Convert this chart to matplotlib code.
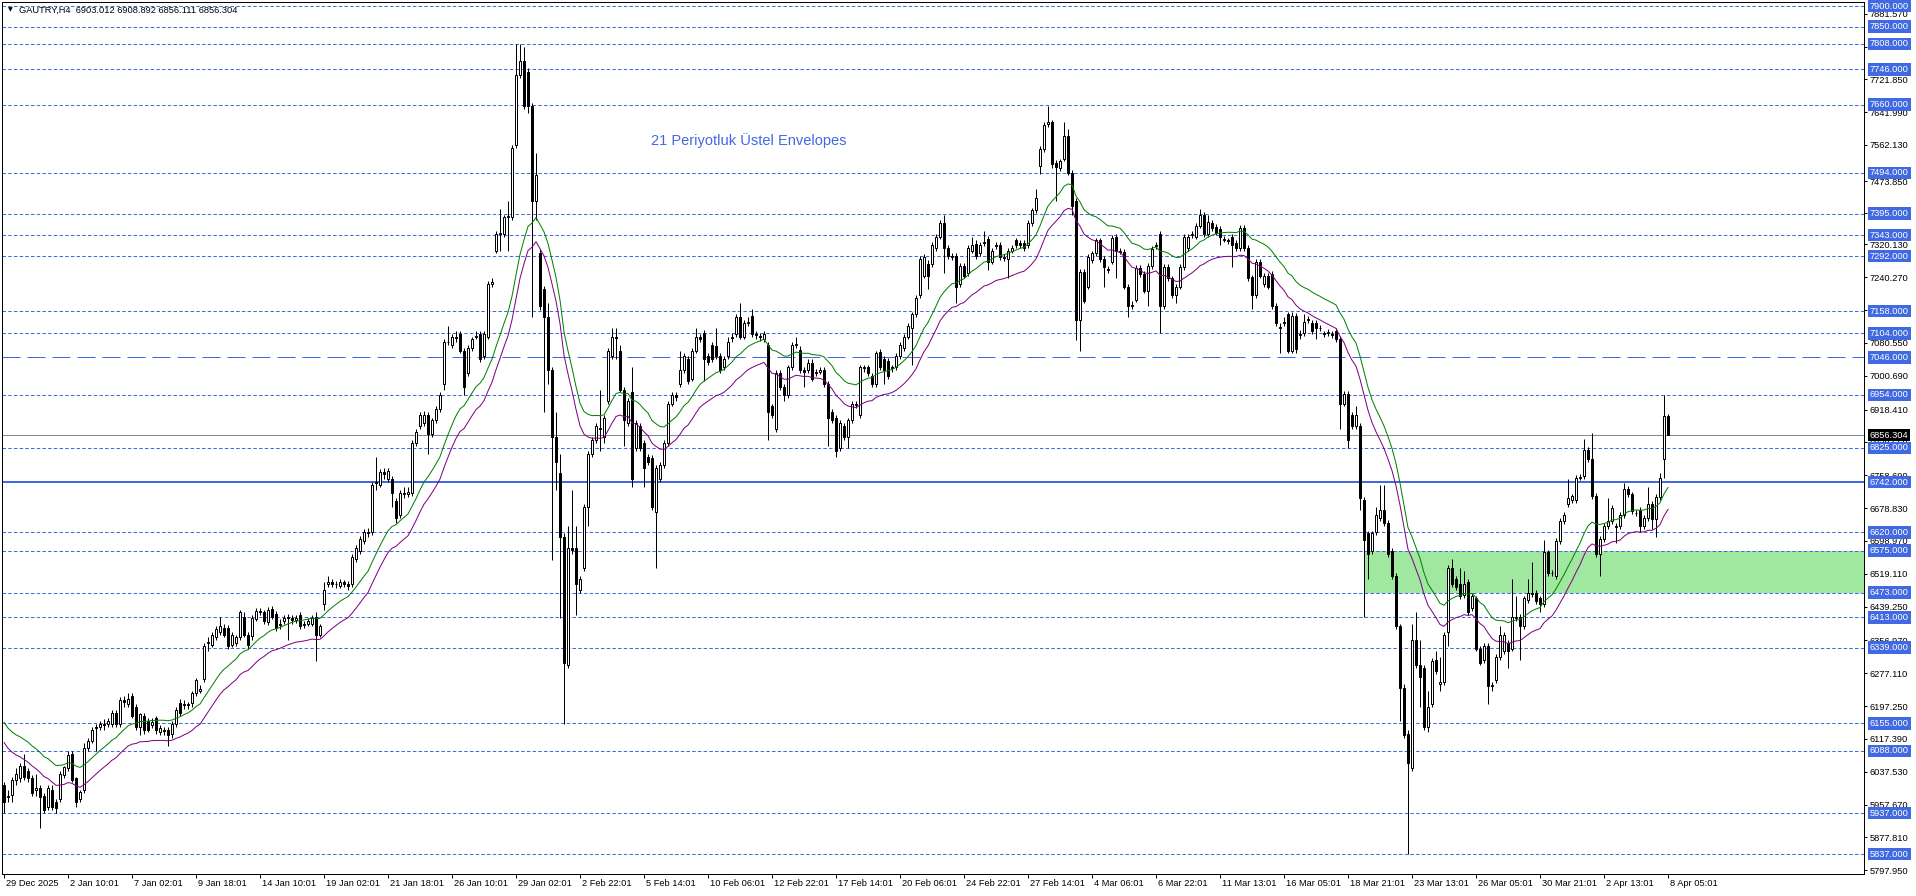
import numpy as np
import matplotlib
matplotlib.use("Agg")
import matplotlib.pyplot as plt
import matplotlib.transforms as mtransforms
from matplotlib.patches import Rectangle

plt.rcParams['font.family'] = ['Liberation Sans', 'DejaVu Sans']

# ---------------- data (H4 candles, GAUTRY) ----------------
opens = [
    6005, 5975, 5981, 6018, 6021, 6052, 6039, 6021, 5994, 5998,
    5978, 5951, 5994, 5964, 5970, 6029, 6046, 6080, 6021, 5970,
    5992, 6094, 6113, 6147, 6147, 6154, 6154, 6154, 6181, 6154,
    6211, 6201, 6222, 6195, 6147, 6174, 6161, 6152, 6167, 6134,
    6140, 6140, 6130, 6154, 6205, 6199, 6203, 6205, 6228, 6235,
    6262, 6350, 6346, 6364, 6377, 6387, 6387, 6346, 6350, 6364,
    6414, 6371, 6368, 6409, 6428, 6425, 6402, 6434, 6422, 6395,
    6404, 6411, 6411, 6407, 6418, 6395, 6398, 6398, 6414, 6371,
    6445, 6495, 6499, 6495, 6490, 6499, 6495, 6493, 6554, 6574,
    6598, 6621, 6621, 6740, 6736, 6766, 6750, 6750, 6696, 6662,
    6716, 6714, 6716, 6838, 6879, 6885, 6906, 6858, 6892, 6919,
    6980, 7082, 7075, 7095, 7102, 7062, 7007, 7068, 7095, 7102,
    7048, 7095, 7224, 7305, 7346, 7346, 7387, 7387, 7563, 7732,
    7766, 7740, 7658, 7427, 7300, 7211, 7143, 7014, 6851, 6764,
    6608, 6296, 6581, 6581, 6479, 6533, 6682, 6811, 6845, 6874,
    6851, 6940, 7048, 7095, 7062, 6967, 6885, 6960, 6824, 6879,
    6838, 6804, 6801, 6669, 6750, 6784, 6838, 6933, 6953, 6980,
    7014, 7041, 6994, 7062, 7095, 7105, 7048, 7075, 7072, 7048,
    7021, 7048, 7093, 7102, 7143, 7095, 7129, 7146, 7102, 7098,
    7089, 7075, 6926, 6872, 7007, 6974, 6953, 7021, 7075, 7064,
    7014, 7014, 7032, 7007, 7010, 7014, 6980, 6913, 6899, 6824,
    6879, 6851, 6892, 6929, 6906, 7021, 7021, 7001, 6980, 7059,
    7041, 7037, 7021, 7021, 7048, 7068, 7095, 7116, 7150, 7197,
    7244, 7272, 7272, 7312, 7339, 7373, 7312, 7292, 7292, 7224,
    7267, 7251, 7305, 7322, 7299, 7323, 7333, 7278, 7316, 7319,
    7289, 7285, 7305, 7330, 7323, 7323, 7319, 7373, 7403, 7511,
    7552, 7614, 7617, 7518, 7505, 7529, 7583, 7495, 7427, 7136,
    7254, 7217, 7282, 7299, 7330, 7285, 7260, 7278, 7339, 7305,
    7303, 7217, 7173, 7186, 7262, 7248, 7208, 7267, 7316, 7346,
    7170, 7265, 7238, 7197, 7217, 7265, 7312, 7343, 7339, 7366,
    7393, 7346, 7373, 7362, 7357, 7333, 7330, 7339, 7323, 7312,
    7360, 7312, 7240, 7197, 7278, 7224, 7244, 7248, 7170, 7120,
    7129, 7150, 7062, 7146, 7100, 7105, 7136, 7129, 7129, 7118,
    7104, 7105, 7102, 7109, 7091, 6933, 6956, 6906, 6879, 6879,
    6698, 6617, 6574, 6621, 6655, 6675, 6642, 6574, 6513, 6391,
    6242, 6130, 6046, 6357, 6296, 6289, 6147, 6201, 6310, 6250,
    6255, 6377, 6533, 6506, 6493, 6468, 6499, 6436, 6459, 6337,
    6310, 6344, 6246, 6260, 6316, 6330, 6350, 6337, 6414, 6414,
    6391, 6455, 6472, 6472, 6459, 6445, 6571, 6520, 6513, 6598,
    6648, 6689, 6698, 6698, 6753, 6757, 6820, 6797, 6709, 6567,
    6604, 6635, 6648, 6635, 6635, 6662, 6726, 6712, 6666, 6675,
    6635, 6655, 6689, 6652, 6705, 6797, 6903.012,
]
closes = [
    5964, 5978, 6018, 6032, 6052, 6025, 6021, 5985, 5998, 5975,
    5944, 5998, 5951, 5948, 6032, 6049, 6079, 6018, 5964, 5989,
    6094, 6113, 6140, 6145, 6154, 6152, 6161, 6181, 6154, 6211,
    6208, 6215, 6174, 6147, 6177, 6140, 6140, 6158, 6138, 6143,
    6136, 6127, 6154, 6188, 6181, 6203, 6199, 6228, 6260, 6238,
    6344, 6352, 6371, 6384, 6391, 6371, 6344, 6371, 6364, 6425,
    6371, 6346, 6411, 6428, 6425, 6404, 6432, 6414, 6387, 6398,
    6411, 6414, 6407, 6411, 6391, 6398, 6404, 6411, 6371, 6391,
    6479, 6499, 6495, 6493, 6499, 6495, 6490, 6560, 6581, 6604,
    6621, 6618, 6736, 6743, 6766, 6762, 6770, 6716, 6655, 6716,
    6714, 6719, 6838, 6865, 6906, 6906, 6858, 6892, 6919, 6953,
    7082, 7084, 7095, 7093, 7062, 6974, 7068, 7089, 7098, 7041,
    7102, 7224, 7228, 7346, 7349, 7387, 7390, 7556, 7732, 7766,
    7658, 7658, 7427, 7488, 7170, 7143, 7014, 6851, 6791, 6608,
    6303, 6581, 6577, 6493, 6506, 6682, 6811, 6845, 6879, 6872,
    6899, 7062, 7095, 7093, 6967, 6892, 6940, 6750, 6885, 6824,
    6777, 6791, 6682, 6777, 6784, 6838, 6933, 6953, 6950, 7014,
    7048, 6987, 7062, 7095, 7091, 7041, 7034, 7041, 7048, 7014,
    7041, 7082, 7095, 7143, 7095, 7129, 7132, 7102, 7100, 7095,
    7102, 6913, 6906, 7007, 6974, 6953, 7021, 7075, 7078, 7014,
    7010, 7032, 6994, 7010, 7014, 6980, 6899, 6892, 6818, 6885,
    6851, 6892, 6933, 6931, 7021, 7019, 7007, 6980, 7055, 7021,
    7014, 7001, 7019, 7048, 7075, 7095, 7122, 7150, 7190, 7285,
    7289, 7244, 7319, 7339, 7373, 7312, 7292, 7289, 7217, 7267,
    7244, 7312, 7319, 7292, 7319, 7326, 7278, 7305, 7319, 7289,
    7287, 7305, 7312, 7319, 7319, 7312, 7373, 7403, 7434, 7552,
    7610, 7617, 7515, 7509, 7522, 7583, 7495, 7414, 7136, 7254,
    7183, 7289, 7299, 7330, 7285, 7265, 7258, 7335, 7305, 7303,
    7217, 7170, 7170, 7262, 7248, 7208, 7267, 7309, 7319, 7170,
    7265, 7238, 7197, 7217, 7265, 7339, 7339, 7346, 7366, 7393,
    7346, 7376, 7360, 7349, 7339, 7331, 7328, 7319, 7312, 7360,
    7312, 7238, 7197, 7278, 7244, 7244, 7217, 7170, 7129, 7118,
    7132, 7062, 7146, 7066, 7102, 7132, 7138, 7109, 7116, 7116,
    7102, 7107, 7100, 7091, 6933, 6956, 6845, 6879, 6906, 6703,
    6601, 6567, 6617, 6662, 6675, 6642, 6567, 6513, 6391, 6242,
    6127, 6059, 6357, 6296, 6269, 6147, 6195, 6306, 6283, 6255,
    6371, 6533, 6493, 6486, 6465, 6493, 6425, 6465, 6337, 6303,
    6344, 6246, 6249, 6316, 6371, 6371, 6330, 6414, 6412, 6391,
    6459, 6472, 6470, 6452, 6445, 6571, 6520, 6522, 6598, 6648,
    6662, 6703, 6707, 6753, 6755, 6820, 6797, 6709, 6567, 6604,
    6635, 6648, 6680, 6633, 6662, 6726, 6712, 6671, 6668, 6635,
    6655, 6689, 6652, 6705, 6753, 6902, 6856.304,
]
highs = [
    6012, 5994, 6025, 6046, 6059, 6080, 6046, 6029, 6032, 6005,
    5985, 6005, 6005, 5970, 6039, 6052, 6087, 6087, 6025, 5994,
    6107, 6120, 6147, 6154, 6161, 6165, 6167, 6188, 6188, 6218,
    6222, 6228, 6228, 6201, 6181, 6181, 6167, 6167, 6174, 6150,
    6147, 6147, 6161, 6195, 6215, 6211, 6208, 6235, 6266, 6249,
    6350, 6364, 6377, 6391, 6414, 6398, 6394, 6377, 6371, 6432,
    6425, 6377, 6418, 6436, 6436, 6432, 6438, 6440, 6428, 6409,
    6418, 6420, 6418, 6418, 6425, 6404, 6411, 6418, 6425, 6398,
    6500, 6513, 6506, 6502, 6506, 6504, 6502, 6567, 6588, 6611,
    6628, 6630, 6743, 6804, 6773, 6777, 6777, 6757, 6703, 6723,
    6730, 6730, 6845, 6872, 6913, 6915, 6913, 6899, 6926, 6960,
    7089, 7122, 7102, 7109, 7109, 7068, 7075, 7095, 7109, 7109,
    7109, 7231, 7238, 7353, 7407, 7393, 7427, 7563, 7807, 7809,
    7800, 7750, 7665, 7542, 7310, 7220, 7177, 7021, 6913, 6811,
    6617, 6635, 6723, 6635, 6513, 6689, 6818, 6851, 6885, 6967,
    6906, 7068, 7116, 7116, 7075, 6974, 6946, 7021, 6892, 6885,
    6845, 6811, 6808, 6784, 6791, 6845, 6940, 6960, 6960, 7062,
    7055, 7048, 7068, 7116, 7102, 7112, 7055, 7082, 7116, 7055,
    7048, 7095, 7105, 7150, 7177, 7136, 7143, 7163, 7109, 7105,
    7109, 7082, 6933, 7014, 7014, 6980, 7028, 7082, 7095, 7072,
    7021, 7041, 7041, 7017, 7021, 7021, 6987, 6919, 6906, 6892,
    6885, 6899, 6940, 6940, 7028, 7028, 7028, 7007, 7062, 7066,
    7048, 7044, 7028, 7055, 7082, 7102, 7129, 7157, 7197, 7292,
    7296, 7282, 7326, 7346, 7380, 7393, 7319, 7299, 7299, 7274,
    7274, 7319, 7339, 7330, 7326, 7353, 7340, 7312, 7326, 7326,
    7296, 7312, 7319, 7337, 7330, 7330, 7380, 7410, 7454, 7559,
    7617, 7658, 7624, 7525, 7529, 7617, 7600, 7502, 7434, 7261,
    7261, 7296, 7305, 7337, 7337, 7292, 7267, 7342, 7346, 7312,
    7310, 7224, 7183, 7269, 7269, 7255, 7274, 7316, 7326, 7353,
    7272, 7272, 7244, 7224, 7272, 7346, 7346, 7353, 7373, 7407,
    7400, 7393, 7380, 7369, 7364, 7340, 7337, 7346, 7330, 7367,
    7367, 7319, 7247, 7285, 7285, 7251, 7251, 7255, 7177, 7129,
    7143, 7157, 7157, 7153, 7112, 7150, 7146, 7136, 7136, 7125,
    7109, 7114, 7109, 7116, 7098, 6963, 6963, 6913, 6926, 6886,
    6705, 6624, 6624, 6682, 6736, 6736, 6649, 6581, 6520, 6398,
    6250, 6140, 6398, 6425, 6357, 6296, 6235, 6313, 6330, 6316,
    6378, 6540, 6554, 6513, 6533, 6526, 6506, 6472, 6466, 6344,
    6351, 6351, 6256, 6323, 6391, 6378, 6357, 6506, 6465, 6421,
    6466, 6506, 6547, 6479, 6466, 6601, 6578, 6529, 6605, 6655,
    6669, 6750, 6714, 6760, 6762, 6848, 6827, 6861, 6716, 6611,
    6642, 6703, 6687, 6642, 6669, 6740, 6733, 6719, 6675, 6682,
    6662, 6730, 6696, 6712, 6764, 6954, 6908.892,
]
lows = [
    5937, 5964, 5964, 6005, 6012, 6018, 6012, 5978, 5978, 5901,
    5937, 5944, 5944, 5937, 5964, 6021, 6039, 6012, 5951, 5964,
    5985, 6087, 6107, 6087, 6140, 6140, 6147, 6147, 6147, 6147,
    6195, 6195, 6167, 6140, 6127, 6130, 6134, 6145, 6130, 6127,
    6127, 6100, 6120, 6147, 6174, 6190, 6190, 6195, 6222, 6228,
    6255, 6330, 6340, 6357, 6371, 6364, 6337, 6340, 6344, 6357,
    6364, 6337, 6357, 6404, 6418, 6398, 6395, 6409, 6380, 6384,
    6398, 6357, 6398, 6400, 6384, 6387, 6391, 6391, 6307, 6364,
    6430, 6486, 6486, 6484, 6484, 6486, 6479, 6486, 6547, 6567,
    6591, 6608, 6614, 6723, 6730, 6750, 6743, 6682, 6642, 6655,
    6703, 6705, 6709, 6831, 6872, 6879, 6811, 6851, 6885, 6913,
    6967, 7075, 7068, 7082, 7055, 6953, 7001, 7062, 7089, 7034,
    7041, 7089, 7217, 7299, 7305, 7339, 7305, 7380, 7556, 7725,
    7650, 7640, 7143, 7380, 7160, 6913, 6980, 6553, 6723, 6411,
    6154, 6289, 6567, 6418, 6472, 6526, 6635, 6804, 6838, 6818,
    6838, 6933, 7041, 7041, 6960, 6831, 6879, 6730, 6818, 6818,
    6730, 6784, 6675, 6533, 6743, 6777, 6831, 6926, 6940, 6974,
    7007, 6980, 6987, 7055, 7082, 6987, 7028, 7034, 7041, 7007,
    7014, 7041, 7084, 7095, 7089, 7089, 7122, 7095, 7091, 7086,
    7082, 6845, 6899, 6865, 6967, 6940, 6946, 7014, 7068, 7007,
    6974, 7007, 6987, 7001, 7004, 6974, 6831, 6885, 6804, 6818,
    6845, 6824, 6885, 6922, 6899, 7010, 7001, 6974, 6974, 7014,
    6980, 6994, 7010, 7014, 7041, 7062, 7089, 7028, 7143, 7190,
    7238, 7211, 7265, 7305, 7333, 7251, 7285, 7282, 7177, 7217,
    7238, 7244, 7299, 7285, 7292, 7316, 7258, 7272, 7309, 7282,
    7280, 7238, 7299, 7312, 7312, 7305, 7312, 7366, 7397, 7492,
    7545, 7605, 7505, 7427, 7498, 7522, 7488, 7393, 7088, 7062,
    7177, 7211, 7275, 7292, 7278, 7217, 7251, 7272, 7238, 7296,
    7211, 7143, 7163, 7180, 7241, 7201, 7170, 7260, 7309, 7105,
    7163, 7231, 7190, 7177, 7211, 7258, 7305, 7336, 7333, 7360,
    7339, 7339, 7353, 7342, 7319, 7326, 7322, 7265, 7305, 7305,
    7305, 7231, 7163, 7190, 7238, 7217, 7211, 7163, 7122, 7055,
    7122, 7055, 7055, 7055, 7091, 7098, 7129, 7102, 7089, 7109,
    7095, 7098, 7093, 7084, 6872, 6926, 6824, 6872, 6872, 6675,
    6413, 6506, 6567, 6614, 6648, 6635, 6560, 6506, 6384, 6160,
    6120, 5837, 6039, 6289, 6195, 6140, 6134, 6195, 6276, 6235,
    6249, 6344, 6486, 6479, 6458, 6461, 6418, 6429, 6330, 6296,
    6303, 6201, 6235, 6253, 6309, 6323, 6289, 6330, 6405, 6310,
    6384, 6448, 6463, 6445, 6425, 6438, 6513, 6513, 6506, 6591,
    6641, 6682, 6691, 6691, 6746, 6750, 6790, 6702, 6560, 6513,
    6597, 6628, 6641, 6594, 6628, 6655, 6705, 6664, 6659, 6621,
    6628, 6648, 6628, 6608, 6698, 6753, 6856.111,
]

# indicator settings: 21-period exponential envelopes
ema_period = 21
envelope_dev_pct = 0.4
ema_seed = 6150

# horizontal levels
dashed_levels = [7900, 7850, 7808, 7746, 7660, 7494, 7395, 7343, 7292, 7158,
                 7104, 6954, 6825, 6620, 6575, 6473, 6413, 6339, 6155, 6088,
                 5937, 5837]
long_dash_level = 7046
solid_level = 6742
current_price = 6856.304
zone_low = 6473
zone_high = 6575
zone_start_bar = 340

axis_ticks = [7881.570, 7801.710, 7721.850, 7641.990, 7562.130, 7473.850,
              7396.990, 7320.130, 7240.270, 7160.410, 7080.550, 7000.690,
              6918.410, 6838.550, 6758.690, 6678.830, 6598.970, 6519.110,
              6439.250, 6356.970, 6277.110, 6197.250, 6117.390, 6037.530,
              5957.670, 5877.810, 5797.950]

time_labels = ["29 Dec 2025", "2 Jan 10:01", "7 Jan 02:01", "9 Jan 18:01",
               "14 Jan 10:01", "19 Jan 02:01", "21 Jan 18:01", "26 Jan 10:01",
               "29 Jan 02:01", "2 Feb 22:01", "5 Feb 14:01", "10 Feb 06:01",
               "12 Feb 22:01", "17 Feb 14:01", "20 Feb 06:01", "24 Feb 22:01",
               "27 Feb 14:01", "4 Mar 06:01", "6 Mar 22:01", "11 Mar 13:01",
               "16 Mar 05:01", "18 Mar 21:01", "23 Mar 13:01", "26 Mar 05:01",
               "30 Mar 21:01", "2 Apr 13:01", "8 Apr 05:01"]
label_step = 16

symbol_text = "GAUTRY,H4  6903.012 6908.892 6856.111 6856.304"
indicator_text = "21 Periyotluk \u00dcstel Envelopes"

# ---------------- figure ----------------
W, H = 1916, 896
fig = plt.figure(figsize=(W / 100, H / 100), dpi=100)
ax = fig.add_axes([2 / W, 22 / H, 1862 / W, 872 / H])
ax.set_xlim(-0.5, 465)
ax.set_ylim(5788.6, 7910)

PX = 0.72  # 1 pixel in points
BLUE = '#4169E1'

n = min(len(opens), len(closes), len(highs), len(lows))
o = np.array(opens[:n], float)
c = np.array(closes[:n], float)
h = np.array(highs[:n], float)
l = np.array(lows[:n], float)
x = np.arange(n)

# zone
ax.add_patch(Rectangle((zone_start_bar, zone_low), 465 - zone_start_bar,
                       zone_high - zone_low, facecolor='#A0E8A0',
                       edgecolor='none', zorder=0.5))

# levels
for p in dashed_levels:
    ax.axhline(p, color=BLUE, lw=PX, linestyle=(0, (3.5, 2.2)), zorder=1)
ax.axhline(long_dash_level, color=BLUE, lw=PX, linestyle=(0, (18, 7)), zorder=1)
ax.axhline(solid_level, color=BLUE, lw=2 * PX, zorder=1)
ax.axhline(current_price, color='#7A8899', lw=PX, zorder=1)

# candles
ax.vlines(x, l, h, color='black', lw=PX, zorder=3)
up = c >= o
bottom = np.minimum(o, c)
height = np.abs(c - o)
ax.bar(x[up], height[up], bottom=bottom[up], width=0.55, facecolor='white',
       edgecolor='black', lw=PX, zorder=4)
ax.bar(x[~up], height[~up], bottom=bottom[~up], width=0.55, facecolor='black',
       edgecolor='black', lw=PX, zorder=4)

# envelopes
alpha = 2.0 / (ema_period + 1)
ema = np.empty(n)
prev = ema_seed
for i in range(n):
    prev = prev + alpha * (c[i] - prev)
    ema[i] = prev
ax.plot(x, ema * (1 + envelope_dev_pct / 100), color='#008000', lw=PX, zorder=5)
ax.plot(x, ema * (1 - envelope_dev_pct / 100), color='#800080', lw=PX, zorder=5)

# frame & axes
for s in ax.spines.values():
    s.set_linewidth(PX)
    s.set_color('black')
FS = 6.7
ax.yaxis.tick_right()
ax.set_yticks(axis_ticks)
ax.set_yticklabels([f"{v:.3f}" for v in axis_ticks])
ax.tick_params(axis='y', direction='out', length=2.2, width=PX, pad=2,
               labelsize=FS, colors='black')
ax.set_xticks([k * label_step for k in range(len(time_labels))])
ax.set_xticklabels([])
ax.tick_params(axis='x', direction='out', length=3, width=PX)

xt = mtransforms.offset_copy(ax.get_xaxis_transform(), fig=fig, x=1.5, y=-5,
                             units='dots')
for k, lab in enumerate(time_labels):
    ax.text(k * label_step, 0, lab, transform=xt, ha='left', va='top',
            fontsize=FS, clip_on=False)

# price labels on the right
lab_tr = mtransforms.offset_copy(
    mtransforms.blended_transform_factory(ax.transAxes, ax.transData),
    fig=fig, x=6, y=0, units='dots')
for p in dashed_levels + [long_dash_level, solid_level]:
    ax.text(1.0, p, f"{p:.3f}", transform=lab_tr, ha='left', va='center',
            fontsize=FS, color='white', clip_on=False, zorder=10,
            bbox=dict(boxstyle='square,pad=0.2', fc=BLUE, ec='none'))
ax.text(1.0, current_price, f"{current_price:.3f}", transform=lab_tr,
        ha='left', va='center', fontsize=FS, color='white', clip_on=False,
        zorder=11, bbox=dict(boxstyle='square,pad=0.2', fc='black', ec='none'))

# header texts
ax.text(6 / 1862, 1 - 8 / 872, "\u25bc", transform=ax.transAxes, fontsize=4.5,
        ha='left', va='center', family='DejaVu Sans', zorder=12)
ax.text(17 / 1862, 1 - 8 / 872, symbol_text, transform=ax.transAxes,
        fontsize=FS, ha='left', va='center', zorder=12)
ax.text((651 - 2) / 1862, 1 - (141 - 2) / 872, indicator_text,
        transform=ax.transAxes, fontsize=10.5, color=BLUE, ha='left',
        va='center', zorder=12)

fig.savefig('out.png', dpi=100)
print(n)
